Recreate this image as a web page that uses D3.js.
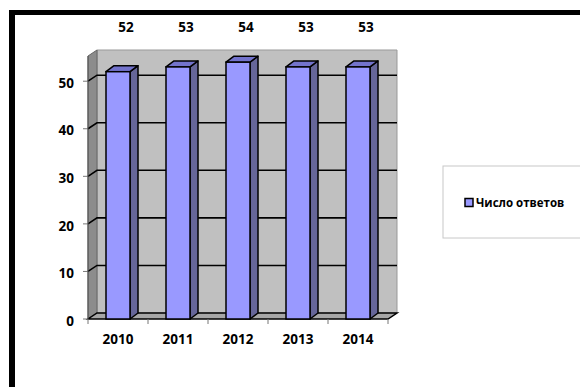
<!DOCTYPE html>
<html>
<head>
<meta charset="utf-8">
<script src="https://cdn.jsdelivr.net/npm/d3@7"></script>
<style>
  body { margin: 0; background: #fff; }
  svg { display: block; font-family: "Open Sans", sans-serif; font-weight: bold; }
</style>
</head>
<body>
<svg id="chart" width="580" height="387"></svg>
<script>
// data
var years = ["2010", "2011", "2012", "2013", "2014"];
var answers = [52, 53, 54, 53, 53];
var yTicks = [0, 10, 20, 30, 40, 50];
var seriesName = "Число ответов";

var svg = d3.select("#chart");

// 3d offsets
var wdx = 9, wdy = -6;   // walls
var bdx = 8, bdy = -6;   // bars

var x = d3.scaleBand()
  .domain(years)
  .range([88, 388])
  .paddingInner(0.6)
  .paddingOuter(0.3);

var y = d3.scaleLinear()
  .domain([0, 55.3])
  .range([319, 56]);

var x0 = x.range()[0], x1 = x.range()[1];
var yTop = y(y.domain()[1]), yBot = y(0);

function poly(pts) { return pts.map(function(p) { return p.join(","); }).join(" "); }

// back wall
svg.append("polygon")
  .attr("points", poly([[x0 + wdx, yTop + wdy], [x1 + wdx, yTop + wdy], [x1 + wdx, yBot + wdy], [x0 + wdx, yBot + wdy]]))
  .attr("fill", "#c0c0c0")
  .attr("stroke", "#999")
  .attr("stroke-width", 1);

// side wall
svg.append("polygon")
  .attr("points", poly([[x0, yTop], [x0 + wdx, yTop + wdy], [x0 + wdx, yBot + wdy], [x0, yBot]]))
  .attr("fill", "#8c8c8c")
  .attr("stroke", "#666")
  .attr("stroke-width", 1);

// floor
svg.append("polygon")
  .attr("points", poly([[x0, yBot], [x1, yBot], [x1 + wdx, yBot + wdy], [x0 + wdx, yBot + wdy]]))
  .attr("fill", "#a6a6a6")
  .attr("stroke", "#000")
  .attr("stroke-width", 1.5);

// gridlines
var grid = svg.append("g");
yTicks.filter(function(d) { return d > 0; }).forEach(function(t) {
  grid.append("polyline")
    .attr("points", poly([[x0, y(t)], [x0 + wdx, y(t) + wdy], [x1 + wdx, y(t) + wdy]]))
    .attr("fill", "none")
    .attr("stroke", "#000")
    .attr("stroke-width", 1.6);
});

// y axis ticks + labels
var yAxis = svg.append("g");
yTicks.forEach(function(t) {
  yAxis.append("line")
    .attr("x1", x0 - 5).attr("x2", x0)
    .attr("y1", y(t)).attr("y2", y(t))
    .attr("stroke", "#777").attr("stroke-width", 1);
  yAxis.append("text")
    .attr("x", 74)
    .attr("y", y(t) + 2)
    .attr("dy", "0.35em")
    .attr("text-anchor", "end")
    .attr("font-size", "13.5px")
    .text(t);
});
yAxis.append("line")
  .attr("x1", x0).attr("x2", x0)
  .attr("y1", yTop).attr("y2", yBot)
  .attr("stroke", "#555").attr("stroke-width", 1);

// x axis ticks + labels
var xAxis = svg.append("g");
d3.range(years.length + 1).forEach(function(i) {
  var xx = x0 + i * x.step();
  xAxis.append("line")
    .attr("x1", xx).attr("x2", xx)
    .attr("y1", yBot).attr("y2", yBot + 5)
    .attr("stroke", "#777").attr("stroke-width", 1);
});
xAxis.selectAll("text")
  .data(years)
  .enter()
  .append("text")
  .attr("x", function(d) { return x(d) + x.bandwidth() / 2; })
  .attr("y", 339)
  .attr("dy", "0.35em")
  .attr("text-anchor", "middle")
  .attr("font-size", "13.5px")
  .text(function(d) { return d; });

// bars
var bars = svg.append("g").selectAll("g")
  .data(years)
  .enter()
  .append("g");

bars.append("polygon") // side
  .attr("points", function(d, i) {
    var r = x(d) + x.bandwidth();
    return poly([[r, y(answers[i])], [r + bdx, y(answers[i]) + bdy], [r + bdx, yBot + bdy], [r, yBot]]);
  })
  .attr("fill", "#666699")
  .attr("stroke", "#000")
  .attr("stroke-width", 1.5)
  .attr("stroke-linejoin", "round");

bars.append("polygon") // top
  .attr("points", function(d, i) {
    var l = x(d), r = x(d) + x.bandwidth(), t = y(answers[i]);
    return poly([[l, t], [l + bdx, t + bdy], [r + bdx, t + bdy], [r, t]]);
  })
  .attr("fill", "#7373cc")
  .attr("stroke", "#000")
  .attr("stroke-width", 1.5)
  .attr("stroke-linejoin", "round");

bars.append("rect") // front
  .attr("x", function(d) { return x(d); })
  .attr("y", function(d, i) { return y(answers[i]); })
  .attr("width", x.bandwidth())
  .attr("height", function(d, i) { return yBot - y(answers[i]); })
  .attr("fill", "#9999ff")
  .attr("stroke", "#000")
  .attr("stroke-width", 1.5);

// value labels
svg.append("g").selectAll("text")
  .data(years)
  .enter()
  .append("text")
  .attr("x", function(d) { return x(d) + x.bandwidth() / 2 + 8; })
  .attr("y", 27)
  .attr("dy", "0.35em")
  .attr("text-anchor", "middle")
  .attr("font-size", "13.5px")
  .text(function(d, i) { return answers[i]; });

// legend
var legend = svg.append("g").attr("class", "legend");
legend.append("rect")
  .attr("x", 443).attr("y", 166)
  .attr("width", 150).attr("height", 72)
  .attr("fill", "#fff")
  .attr("stroke", "#c8c8c8")
  .attr("stroke-width", 1);
legend.append("rect")
  .attr("x", 465).attr("y", 198.5)
  .attr("width", 8).attr("height", 8)
  .attr("fill", "#9999ff")
  .attr("stroke", "#000")
  .attr("stroke-width", 1.5);
legend.append("text")
  .attr("x", 476).attr("y", 203)
  .attr("dy", "0.35em")
  .attr("font-size", "11.5px")
  .text(seriesName);

// outer frame
svg.append("rect").attr("x", 9).attr("y", 10).attr("width", 571).attr("height", 5).attr("fill", "#000");
svg.append("rect").attr("x", 9).attr("y", 10).attr("width", 6).attr("height", 377).attr("fill", "#000");
</script>
</body>
</html>
